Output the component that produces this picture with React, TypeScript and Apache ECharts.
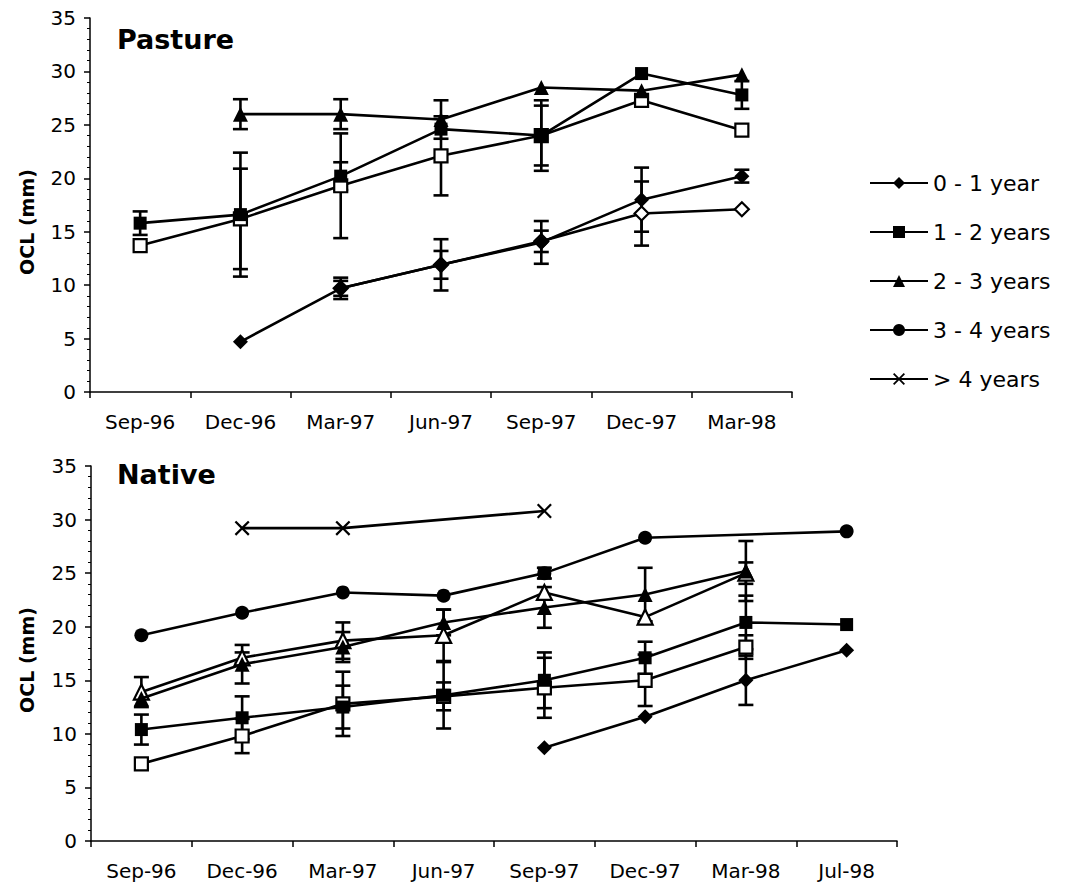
import React, { useEffect, useRef } from 'react';
import * as echarts from 'echarts';

// ---------- categories & legend ----------
const pastureCats = ['Sep-96', 'Dec-96', 'Mar-97', 'Jun-97', 'Sep-97', 'Dec-97', 'Mar-98'];
const nativeCats = ['Sep-96', 'Dec-96', 'Mar-97', 'Jun-97', 'Sep-97', 'Dec-97', 'Mar-98', 'Jul-98'];
const legendNames = ['0 - 1 year', '1 - 2 years', '2 - 3 years', '3 - 4 years', '> 4 years'];
const yTicks = [0, 5, 10, 15, 20, 25, 30, 35];

// ---------- Pasture ----------
const pDiamond = [null, 4.7, 9.7, 11.9, 14.0, 18.0, 20.2];
const pDiamondErr = [0, 0, 1.0, 2.4, 2.0, 3.0, 0.6];
const pDiamondOpen = [null, null, 9.7, 11.9, 14.1, 16.7, 17.1];
const pDiamondOpenErr = [0, 0, 0.7, 1.3, 1.0, 3.0, 0];
const pSquare = [15.8, 16.6, 20.2, 24.6, 24.0, 29.8, 27.8];
const pSquareErr = [1.1, 5.8, 1.3, 0, 2.8, 0, 1.3];
const pSquareOpen = [13.7, 16.2, 19.3, 22.1, 24.0, 27.3, 24.5];
const pSquareOpenErr = [0, 4.7, 4.9, 3.7, 3.3, 0, 0];
const pTriangle = [null, 26.0, 26.0, 25.5, 28.5, 28.2, 29.7];
const pTriangleErr = [0, 1.4, 1.4, 1.8, 0, 0, 0];

// ---------- Native ----------
const nDiamond = [null, null, null, null, 8.7, 11.6, 15.0, 17.8];
const nDiamondErr = [0, 0, 0, 0, 0, 0, 2.3, 0];
const nSquare = [10.4, 11.5, 12.5, 13.6, 15.0, 17.1, 20.4, 20.2];
const nSquareErr = [1.4, 2.0, 2.0, 3.1, 2.6, 1.5, 2.5, 0];
const nSquareOpen = [7.2, 9.8, 12.8, 13.5, 14.3, 15.0, 18.1, null];
const nSquareOpenErr = [0, 1.6, 3.0, 1.3, 2.8, 2.4, 1.1, 0];
const nSquareExtra = [null, null, null, null, 25.0, null, null, null];
const nSquareExtraErr = [0, 0, 0, 0, 0.5, 0, 0, 0];
const nTriangle = [13.3, 16.5, 18.1, 20.4, 21.8, 23.0, 25.2, null];
const nTriangleErr = [0, 1.8, 1.4, 1.2, 1.9, 2.5, 2.8, 0];
const nTriangleOpen = [13.9, 17.1, 18.7, 19.2, 23.2, 20.9, 25.0, null];
const nTriangleOpenErr = [1.4, 0.5, 1.7, 2.4, 0, 0, 1.0, 0];
const nCircle = [19.2, 21.3, 23.2, 22.9, 25.0, 28.3, null, 28.9];
const nCross = [null, 29.2, 29.2, null, 30.8, null, null, null];

const FONT = 'DejaVu Sans';
const CROSS = 'path://M0,1.5L1.5,0L7,5.5L12.5,0L14,1.5L8.5,7L14,12.5L12.5,14L7,8.5L1.5,14L0,12.5L5.5,7Z';
const LW = 2.6;

function lineSeries(name: string, data: (number | null)[], symbol: string, size: number, open: boolean, grid: number, connect = false) {
  return {
    name,
    type: 'line',
    xAxisIndex: grid,
    yAxisIndex: grid,
    data,
    symbol,
    symbolSize: size,
    connectNulls: connect,
    z: open ? 3 : 4,
    lineStyle: { color: '#000', width: LW },
    itemStyle: open
      ? { color: '#fff', borderColor: '#000', borderWidth: 2.2 }
      : { color: '#000', borderColor: '#000', borderWidth: 0 },
    emphasis: { disabled: true },
  };
}

function errSeries(name: string, vals: (number | null)[], errs: number[], grid: number) {
  const data: number[][] = [];
  vals.forEach((v, i) => {
    if (v !== null && errs[i] > 0) data.push([i, v - errs[i], v + errs[i]]);
  });
  return {
    name,
    type: 'custom',
    xAxisIndex: grid,
    yAxisIndex: grid,
    z: 2,
    encode: { x: 0, y: [1, 2] },
    data,
    renderItem: (_params: any, api: any) => {
      const x = api.value(0);
      const lo = api.coord([x, api.value(1)]);
      const hi = api.coord([x, api.value(2)]);
      const w = 7.5;
      const st = { stroke: '#000', lineWidth: LW };
      return {
        type: 'group',
        children: [
          { type: 'line', shape: { x1: hi[0], y1: hi[1], x2: lo[0], y2: lo[1] }, style: st },
          { type: 'line', shape: { x1: hi[0] - w, y1: hi[1], x2: hi[0] + w, y2: hi[1] }, style: st },
          { type: 'line', shape: { x1: lo[0] - w, y1: lo[1], x2: lo[0] + w, y2: lo[1] }, style: st },
        ],
      };
    },
  };
}

function xAxis(grid: number, cats: string[]) {
  return {
    type: 'category',
    gridIndex: grid,
    data: cats,
    boundaryGap: true,
    axisLine: { show: true, lineStyle: { color: '#000', width: 1.5 } },
    axisTick: { show: true, length: 6, lineStyle: { color: '#000', width: 1.5 } },
    axisLabel: { fontFamily: FONT, fontSize: 20, color: '#000', margin: 20 },
    splitLine: { show: false },
  };
}

function yAxis(grid: number) {
  return {
    type: 'value',
    gridIndex: grid,
    min: yTicks[0],
    max: yTicks[yTicks.length - 1],
    interval: 5,
    axisLine: { show: true, lineStyle: { color: '#000', width: 1.5 } },
    axisTick: { show: true, length: 6, lineStyle: { color: '#000', width: 1.5 } },
    minorTick: { show: true, splitNumber: 5, length: 3, lineStyle: { color: '#000', width: 1 } },
    axisLabel: { fontFamily: FONT, fontSize: 20, color: '#000', margin: 14 },
    splitLine: { show: false },
    minorSplitLine: { show: false },
  };
}

export default function App() {
  const ref = useRef<HTMLDivElement>(null);
  useEffect(() => {
    if (!ref.current) return;
    const chart = echarts.init(ref.current, undefined, { renderer: 'svg' });
    const series: any[] = [
      // error bars
      errSeries('e1', pDiamond, pDiamondErr, 0),
      errSeries('e2', pDiamondOpen, pDiamondOpenErr, 0),
      errSeries('e3', pSquare, pSquareErr, 0),
      errSeries('e4', pSquareOpen, pSquareOpenErr, 0),
      errSeries('e5', pTriangle, pTriangleErr, 0),
      errSeries('e6', nDiamond, nDiamondErr, 1),
      errSeries('e7', nSquare, nSquareErr, 1),
      errSeries('e8', nSquareOpen, nSquareOpenErr, 1),
      errSeries('e9', nSquareExtra, nSquareExtraErr, 1),
      errSeries('e10', nTriangle, nTriangleErr, 1),
      errSeries('e11', nTriangleOpen, nTriangleOpenErr, 1),
      // Pasture lines
      lineSeries('0 - 1 year', pDiamond, 'diamond', 15, false, 0),
      lineSeries('1 - 2 years', pSquare, 'rect', 13, false, 0),
      lineSeries('2 - 3 years', pTriangle, 'triangle', 15, false, 0),
      lineSeries('0 - 1 year open (Pasture)', pDiamondOpen, 'diamond', 14, true, 0),
      lineSeries('1 - 2 years open (Pasture)', pSquareOpen, 'rect', 13, true, 0),
      // Native lines
      lineSeries('3 - 4 years', nCircle, 'circle', 14, false, 1, true),
      lineSeries('> 4 years', nCross, CROSS, 15, false, 1, true),
      lineSeries('1 - 2 years open (Native)', nSquareOpen, 'rect', 13, true, 1),
      lineSeries('2 - 3 years open (Native)', nTriangleOpen, 'triangle', 15, true, 1),
      lineSeries('0 - 1 year', nDiamond, 'diamond', 15, false, 1),
      lineSeries('1 - 2 years', nSquare, 'rect', 13, false, 1),
      lineSeries('1 - 2 years', nSquareExtra, 'rect', 13, false, 1),
      lineSeries('2 - 3 years', nTriangle, 'triangle', 15, false, 1),
    ];
    chart.setOption({
      animation: false,
      backgroundColor: '#fff',
      grid: [
        { left: 90, top: 18, width: 702, height: 374 },
        { left: 91, top: 466, width: 806, height: 375 },
      ],
      xAxis: [xAxis(0, pastureCats), xAxis(1, nativeCats)],
      yAxis: [yAxis(0), yAxis(1)],
      legend: {
        data: legendNames,
        orient: 'vertical',
        left: 869,
        top: 172,
        padding: 0,
        itemWidth: 58,
        itemHeight: 15,
        itemGap: 27,
        selectedMode: false,
        textStyle: { fontFamily: FONT, fontSize: 22, color: '#000' },
      },
      graphic: [
        { type: 'text', x: 117, y: 39, style: { text: 'Pasture', fontFamily: FONT, fontSize: 27, fontWeight: 'bold', fill: '#000', align: 'left', verticalAlign: 'middle' } },
        { type: 'text', x: 117, y: 474, style: { text: 'Native', fontFamily: FONT, fontSize: 27, fontWeight: 'bold', fill: '#000', align: 'left', verticalAlign: 'middle' } },
        { type: 'text', x: 27, y: 222, rotation: Math.PI / 2, style: { text: 'OCL (mm)', fontFamily: FONT, fontSize: 19, fontWeight: 'bold', fill: '#000', align: 'center', verticalAlign: 'middle' } },
        { type: 'text', x: 27, y: 660, rotation: Math.PI / 2, style: { text: 'OCL (mm)', fontFamily: FONT, fontSize: 19, fontWeight: 'bold', fill: '#000', align: 'center', verticalAlign: 'middle' } },
      ],
      series,
    });
    return () => chart.dispose();
  }, []);
  return <div ref={ref} style={{ position: 'absolute', left: 0, top: 0, width: 1066, height: 887 }} />;
}
